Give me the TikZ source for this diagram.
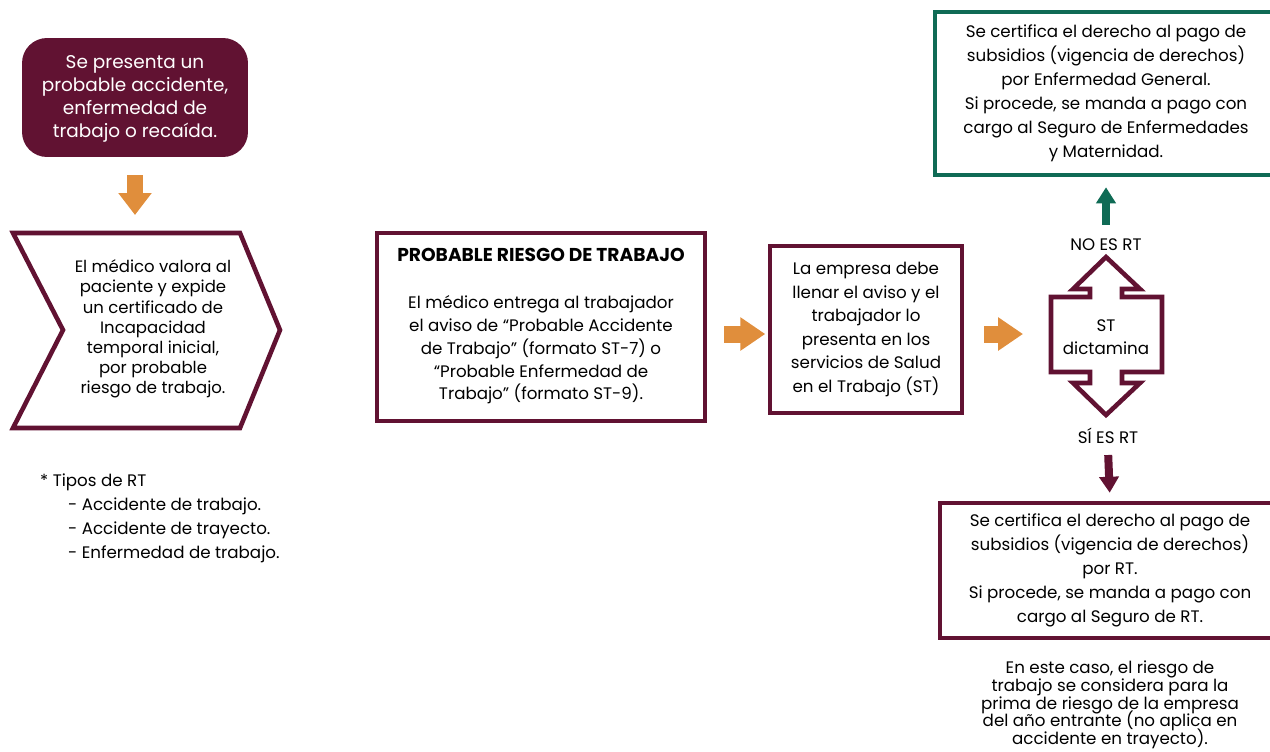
\documentclass[tikz,border=0pt]{standalone}
\usepackage{fontspec}
\setmainfont{Poppins}
\usetikzlibrary{arrows.meta, positioning}
\definecolor{guinda}{HTML}{611232}
\definecolor{naranja}{HTML}{E08E3C}
\definecolor{verde}{HTML}{0F6B55}
\newcommand\notafont{\fontsize{9.5}{10}\selectfont\lineskiplimit=-20pt\relax}
\tikzset{
  caja/.style={draw=guinda, line width=2.6pt, align=center, inner sep=0pt},
  texto/.style={align=center, font=\fontsize{9.5}{13.4}\selectfont},
  flechanar/.style={naranja, line width=0.34cm, -{Triangle[length=0.5cm, width=0.64cm]}},
  flechaver/.style={verde, line width=0.16cm, -{Triangle[length=0.32cm, width=0.38cm]}},
  flechagui/.style={guinda, line width=0.16cm, -{Triangle[length=0.32cm, width=0.38cm]}}
}

\begin{document}
\begin{tikzpicture}[x=0.02cm, y=-0.02cm]
  \useasboundingbox (0,0) rectangle (1270,751);

  \node[fill=guinda, rounded corners=0.5cm, minimum width=4.52cm, minimum height=2.38cm,
        text=white, align=center, font=\fontsize{10.5}{13}\selectfont] (inicio) at (135,97.5)
        {\rule{0pt}{9pt}Se presenta un\\probable accidente,\\enfermedad de\\trabajo o recaída.};

  \draw[guinda, line width=2.6pt, line join=miter] (13,233) -- (240,233) -- (280,330) -- (240,428) -- (13,428) -- (63,330) -- cycle;
  \coordinate (chevtop) at (135,233);
  \node[texto, font=\fontsize{9.4}{11.5}\selectfont] (medico) at (153,329)
        {El médico valora al\\paciente y expide\\un certificado de\\Incapacidad\\temporal inicial,\\por probable\\riesgo de trabajo.};

  \node[caja, minimum width=6.56cm, minimum height=3.76cm] (prt) at (541,327) {};
  \node[texto, font=\fontsize{9.5}{13}\selectfont] (prttxt) at (541,326)
        {{\fontsize{10.6}{13}\selectfont\textbf{PROBABLE RIESGO DE TRABAJO}}\\[14pt]El médico entrega al trabajador\\el aviso de “Probable Accidente\\de Trabajo” (formato ST-7) o\\“Probable Enfermedad de\\Trabajo” (formato ST-9).};

  \node[caja, texto, minimum width=3.84cm, minimum height=3.34cm] (empresa) at (866,329.5)
        {La empresa debe\\llenar el aviso y el\\trabajador lo\\presenta en los\\servicios de Salud\\en el Trabajo (ST)};

  \draw[guinda, line width=2.6pt, line join=miter] (1106,257) -- (1140,289) -- (1122,289) -- (1122,297) -- (1162,297) -- (1162,372) -- (1122,372) -- (1122,383) -- (1140,383) -- (1106,415) -- (1073,383) -- (1090,383) -- (1090,372) -- (1051,372) -- (1051,297) -- (1090,297) -- (1090,289) -- (1073,289) -- cycle;
  \coordinate (stleft) at (1051,334);
  \node[texto] (st) at (1106,337) {ST\\dictamina};

  \node[texto] (noes) at (1106,245) {NO ES RT};
  \node[texto] (sies) at (1108,436) {SÍ ES RT};

  \node[caja, draw=verde, texto, font=\fontsize{9.5}{13.7}\selectfont, minimum width=6.84cm, minimum height=3.26cm] (general) at (1106,93.5)
        {Se certifica el derecho al pago de\\subsidios (vigencia de derechos)\\por Enfermedad General.\\Si procede, se manda a pago con\\cargo al Seguro de Enfermedades\\y Maternidad.};

  \node[caja, texto, font=\fontsize{9.5}{13.7}\selectfont, minimum width=6.8cm, minimum height=2.7cm] (riesgo) at (1110,570.5)
        {Se certifica el derecho al pago de\\subsidios (vigencia de derechos)\\por RT.\\Si procede, se manda a pago con\\cargo al Seguro de RT.};

  \node[texto, font=\notafont, anchor=north] (nota) at (1110,655)
        {En este caso, el riesgo de\\trabajo se considera para la\\prima de riesgo de la empresa\\del año entrante (no aplica en\\accidente en trayecto).};

  \node[align=left, anchor=north west, font=\fontsize{9.5}{13.6}\selectfont] (tipos) at (34,468)
        {* Tipos de RT\\\hspace*{0.56cm}- Accidente de trabajo.\\\hspace*{0.56cm}- Accidente de trayecto.\\\hspace*{0.56cm}- Enfermedad de trabajo.};

  \draw[flechanar, line width=0.32cm, -{Triangle[length=0.44cm, width=0.64cm]}, shorten <=18*0.02cm, shorten >=18*0.02cm] (inicio.south) -- (chevtop);
  \draw[flechanar] (prt.east |- 0,334) ++(17,0) -- ++(41,0);
  \draw[flechanar, shorten <=20*0.02cm, shorten >=28*0.02cm] (empresa.east |- stleft) -- (stleft);
  \draw[flechaver, shorten <=8*0.02cm, shorten >=10*0.02cm] (noes.north) -- (general.south);
  \draw[flechagui, shorten <=5*0.02cm, shorten >=8*0.02cm] (sies.south) -- (riesgo.north);
\end{tikzpicture}
\end{document}
